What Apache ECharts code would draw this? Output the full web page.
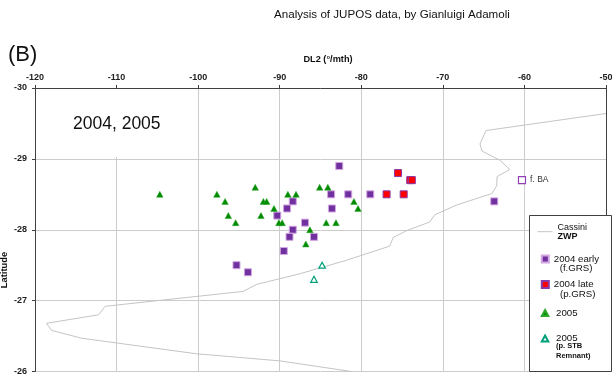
<!DOCTYPE html>
<html>
<head>
<meta charset="utf-8">
<script src="https://cdn.jsdelivr.net/npm/echarts@6/dist/echarts.min.js"></script>
<style>
  html, body { margin: 0; padding: 0; background: #ffffff; }
  #chart { width: 616px; height: 376px; }
</style>
</head>
<body>
<div id="chart"></div>
<script>
// Drift rate DL2 (deg/month) vs latitude, JUPOS measurements 2004-2005
const xMin = -120, xMax = -50, xStep = 10;
const yMin = -30, yMax = -26, yStep = 1;

// Cassini zonal wind profile expressed as drift [DL2, latitude]
const cassiniZwp = [
  [-50.0, -29.64], [-64.7, -29.40], [-65.45, -29.21], [-65.2, -29.11],
  [-63.0, -28.98], [-61.8, -28.85], [-63.35, -28.75], [-63.4, -28.62],
  [-64.0, -28.51], [-68.3, -28.35], [-71.0, -28.21], [-71.6, -28.11],
  [-74.4, -27.99], [-76.1, -27.89], [-76.5, -27.77], [-81.8, -27.57],
  [-87.5, -27.38], [-92.8, -27.23], [-94.5, -27.13], [-111.4, -26.92],
  [-112.2, -26.80], [-118.6, -26.68], [-117.95, -26.58], [-114.3, -26.47],
  [-100.2, -26.25], [-96.1, -26.21], [-90.0, -26.15], [-81.2, -26.0]
];

// 2004 early (following GRS)
const early2004 = [
  [-82.7, -28.9], [-83.7, -28.5], [-81.6, -28.5], [-78.9, -28.5],
  [-88.4, -28.4], [-89.1, -28.3], [-90.3, -28.2], [-83.6, -28.3],
  [-86.9, -28.1], [-88.4, -28.0], [-88.8, -27.9], [-85.8, -27.9],
  [-89.5, -27.7], [-95.3, -27.5], [-93.9, -27.4], [-63.7, -28.4]
];

// 2004 late (preceding GRS)
const late2004 = [
  [-75.5, -28.8], [-74.0, -28.7], [-73.8, -28.7], [-76.9, -28.5], [-74.8, -28.5]
];

// 2005
const y2005 = [
  [-104.7, -28.5], [-97.7, -28.5], [-96.7, -28.4], [-96.3, -28.2], [-95.4, -28.1],
  [-93.0, -28.6], [-92.0, -28.4], [-91.6, -28.4], [-92.3, -28.2], [-90.7, -28.3],
  [-90.1, -28.1], [-89.7, -28.1], [-89.0, -28.5], [-88.0, -28.5], [-86.3, -28.0],
  [-86.8, -27.8], [-85.1, -28.6], [-84.1, -28.6], [-84.3, -28.1], [-83.1, -28.1],
  [-80.9, -28.4], [-80.4, -28.3]
];

// 2005, preceding STB remnant
const remnant2005 = [[-84.8, -27.5], [-85.8, -27.3]];

// following BA
const fBA = [[-60.3, -28.7]];

const SANS = "'Liberation Sans', Arial, Helvetica, sans-serif";

const chart = echarts.init(document.getElementById('chart'), null, { renderer: 'canvas' });

function legendItem(name, left, top, w, h, text, fontSize) {
  return {
    data: [name], left: left, top: top, padding: 0, orient: 'vertical',
    itemWidth: w, itemHeight: h, selectedMode: false, z: 10,
    formatter: function () { return text; },
    textStyle: { fontFamily: SANS, fontSize: fontSize, color: '#111', lineHeight: h }
  };
}

function txt(x, y, text, size, weight) {
  return {
    type: 'text', x: x, y: y, z: 12, silent: true,
    style: {
      text: text, fontFamily: SANS, fontSize: size, fontWeight: weight || 'normal', fill: '#111',
      textAlign: 'left', textVerticalAlign: 'middle'
    }
  };
}

const tickLabel = { fontFamily: SANS, fontSize: 9, fontWeight: 'bold', color: '#222' };

const option = {
  animation: false,
  backgroundColor: '#ffffff',
  grid: { left: 35, right: 10, top: 88, bottom: 0, containLabel: false },
  xAxis: {
    type: 'value', position: 'top', min: xMin, max: xMax, interval: xStep,
    axisLine: { show: true, onZero: false, lineStyle: { color: '#404040', width: 1 } },
    axisTick: { show: true, inside: false, length: 3, lineStyle: { color: '#404040' } },
    axisLabel: Object.assign({ margin: 6 }, tickLabel),
    splitLine: { show: true, lineStyle: { color: '#cccccc', width: 1 } }
  },
  yAxis: [{
    type: 'value', inverse: true, min: yMin, max: yMax, interval: yStep,
    axisLine: { show: true, onZero: false, lineStyle: { color: '#404040', width: 1 } },
    axisTick: { show: true, inside: false, length: 3, lineStyle: { color: '#404040' } },
    axisLabel: Object.assign({ margin: 8 }, tickLabel),
    splitLine: { show: true, lineStyle: { color: '#cccccc', width: 1 } }
  }, {
    type: 'value', position: 'right', inverse: true, min: yMin, max: yMax, interval: yStep,
    axisLine: { show: true, onZero: false, lineStyle: { color: '#404040', width: 1 } },
    axisTick: { show: false }, axisLabel: { show: false }, splitLine: { show: false }
  }],
  legend: [
    Object.assign(legendItem('Cassini ZWP', 537, 222.7, 15, 8, '{a|Cassini}\n{b|ZWP}', 9), {
      itemStyle: { opacity: 0 },
      lineStyle: { color: '#c4c4c4', width: 1 },
      textStyle: {
        fontFamily: SANS, color: '#111',
        rich: {
          a: { fontFamily: SANS, fontSize: 9, lineHeight: 9, color: '#111' },
          b: { fontFamily: SANS, fontSize: 9, lineHeight: 9, fontWeight: 'bold', color: '#111' }
        }
      }
    }),
    legendItem('2004 early (f.GRS)', 540.8, 254, 7, 7, '2004 early', 9.7),
    legendItem('2004 late (p.GRS)', 540.8, 279.5, 7, 7, '2004 late', 9.7),
    legendItem('2005', 540.8, 308, 6.5, 6, ' 2005', 9.7),
    legendItem('2005 (p. STB Remnant)', 540.8, 333.5, 6.5, 6, ' 2005', 9.7)
  ],
  graphic: [
    // white panel behind the period caption
    { type: 'rect', shape: { x: 40, y: 89, width: 150, height: 68 }, style: { fill: '#ffffff' }, z: 3, silent: true },
    // legend frame
    { type: 'rect', shape: { x: 529.5, y: 215.5, width: 82, height: 156 },
      style: { fill: '#ffffff', stroke: '#404040', lineWidth: 1 }, z: 3, silent: true },
    txt(274, 15, 'Analysis of JUPOS data, by Gianluigi Adamoli', 11.6),
    txt(8, 55, '(B)', 22),
    txt(73, 124, '2004, 2005', 17.5),
    { type: 'text', x: 328, y: 59.5, z: 12, silent: true, style: {
      text: 'DL2 (°/mth)', fontFamily: SANS, fontSize: 9.2, fontWeight: 'bold', fill: '#111',
      textAlign: 'center', textVerticalAlign: 'middle' } },
    { type: 'text', x: 4, y: 270, rotation: Math.PI / 2, z: 12, silent: true, style: {
      text: 'Latitude', fontFamily: SANS, fontSize: 9.4, fontWeight: 'bold', fill: '#111',
      textAlign: 'center', textVerticalAlign: 'middle' } },
    txt(559.7, 268.7, '(f.GRS)', 9.7),
    txt(560, 294.3, '(p.GRS)', 9.7),
    txt(556, 345.5, '(p. STB', 7.5, 'bold'),
    txt(556, 355.5, 'Remnant)', 7.5, 'bold')
  ],
  series: [
    {
      name: 'Cassini ZWP', type: 'line', data: cassiniZwp, symbol: 'none', showSymbol: false, z: 1,
      lineStyle: { color: '#c4c4c4', width: 1 }, itemStyle: { color: '#c4c4c4' },
      silent: true, clip: true
    },
    {
      name: '2004 early (f.GRS)', type: 'scatter', data: early2004, symbol: 'rect', symbolSize: 7,
      itemStyle: { color: '#7030a0', borderColor: '#d2a6e0', borderWidth: 1, opacity: 1 }
    },
    {
      name: '2004 late (p.GRS)', type: 'scatter', data: late2004, symbol: 'rect', symbolSize: 7,
      itemStyle: { color: '#ff0000', borderColor: '#8a3aa8', borderWidth: 1, opacity: 1 }
    },
    {
      name: '2005', type: 'scatter', data: y2005, symbol: 'triangle', symbolSize: [6.5, 6],
      itemStyle: { color: '#008a00', borderColor: '#2aa82a', borderWidth: 0.5, opacity: 1 }
    },
    {
      name: '2005 (p. STB Remnant)', type: 'scatter', data: remnant2005, symbol: 'triangle', symbolSize: [6.5, 6],
      itemStyle: { color: '#ffffff', borderColor: '#00a07a', borderWidth: 1.2, opacity: 1 }
    },
    {
      name: 'f. BA', type: 'scatter', data: fBA, symbol: 'rect', symbolSize: 7,
      itemStyle: { color: '#ffffff', borderColor: '#9040b0', borderWidth: 1.2, opacity: 1 },
      label: { show: true, position: 'right', distance: 4, formatter: 'f. BA',
        fontFamily: SANS, fontSize: 8.5, color: '#333' }
    }
  ]
};

chart.setOption(option);
</script>
</body>
</html>
